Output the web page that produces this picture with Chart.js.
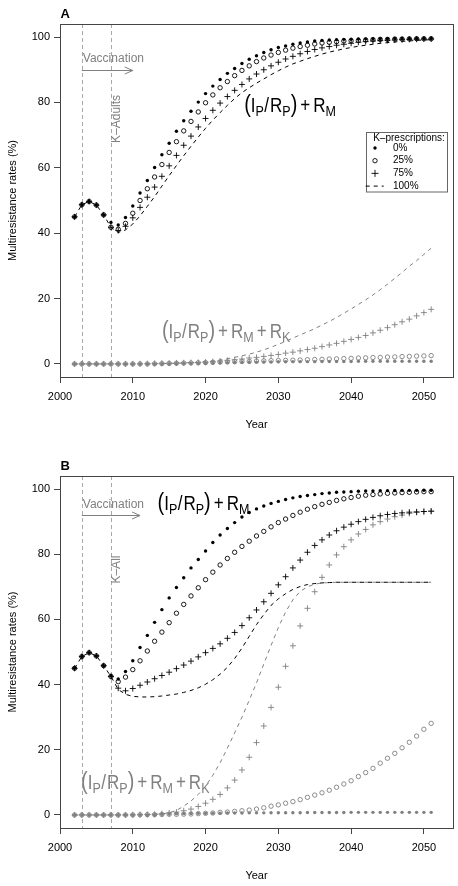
<!DOCTYPE html>
<html>
<head>
<meta charset="utf-8">
<script src="https://cdn.jsdelivr.net/npm/chart.js@4.4.1/dist/chart.umd.min.js"></script>
<style>
  html, body { margin: 0; padding: 0; background: #fff; }
  #wrap { position: relative; width: 458px; height: 886px; }
  canvas { position: absolute; left: 0; }
</style>
</head>
<body>
<div id="wrap">
  <canvas id="panelA" width="458" height="443" style="top:0"></canvas>
  <canvas id="panelB" width="458" height="443" style="top:443px"></canvas>
</div>
<script>
const years = [2002, 2003, 2004, 2005, 2006, 2007, 2008, 2009, 2010, 2011,
    2012, 2013, 2014, 2015, 2016, 2017, 2018, 2019, 2020, 2021,
    2022, 2023, 2024, 2025, 2026, 2027, 2028, 2029, 2030, 2031,
    2032, 2033, 2034, 2035, 2036, 2037, 2038, 2039, 2040, 2041,
    2042, 2043, 2044, 2045, 2046, 2047, 2048, 2049, 2050, 2051];

const xTickValues = [2000, 2010, 2020, 2030, 2040, 2050];
const yTickValues = [0, 20, 40, 60, 80, 100];
const guideYears = [2003, 2007];
const legendTitle = 'K\u2013prescriptions:';
const legendLabels = ['0%', '25%', '75%', '100%'];

// Panel A: K-prescriptions for adults
// (IP/RP) + RM
const adultsTop0 = [45.0, 48.7, 49.7, 48.6, 45.6, 43.3, 42.5, 44.8, 48.3, 52.3,
    56.1, 60.1, 64.0, 67.5, 71.2, 74.4, 77.3, 80.1, 82.7, 85.0,
    87.0, 88.9, 90.4, 91.9, 93.2, 94.3, 95.3, 96.1, 96.8, 97.3,
    97.8, 98.2, 98.5, 98.8, 99.0, 99.1, 99.2, 99.3, 99.35, 99.4,
    99.45, 99.5, 99.5, 99.5, 99.55, 99.55, 99.6, 99.6, 99.6, 99.6];
const adultsTop25 = [45.0, 48.7, 49.7, 48.6, 45.6, 41.8, 41.2, 43.0, 46.1, 50.0,
    53.6, 57.2, 61.0, 64.7, 68.0, 71.3, 74.2, 77.1, 79.9, 82.3,
    84.5, 86.4, 88.2, 89.8, 91.2, 92.5, 93.6, 94.5, 95.3, 96.0,
    96.6, 97.1, 97.5, 97.9, 98.2, 98.4, 98.6, 98.8, 98.9, 99.0,
    99.1, 99.2, 99.3, 99.3, 99.4, 99.4, 99.45, 99.5, 99.5, 99.5];
const adultsTop75 = [45.0, 48.7, 49.7, 48.6, 45.6, 41.8, 40.8, 42.1, 44.7, 47.9,
    51.0, 54.1, 57.4, 60.6, 63.8, 66.9, 69.7, 72.5, 75.1, 77.6,
    79.8, 81.8, 83.7, 85.5, 87.2, 88.7, 90.0, 91.2, 92.3, 93.3,
    94.1, 94.9, 95.6, 96.2, 96.7, 97.1, 97.5, 97.8, 98.1, 98.4,
    98.6, 98.8, 98.9, 99.0, 99.1, 99.2, 99.3, 99.35, 99.4, 99.4];
const adultsTop100 = [45.0, 48.7, 49.7, 48.6, 45.6, 41.8, 40.2, 41.0, 42.8, 45.3,
    48.2, 51.2, 54.4, 57.6, 60.7, 63.7, 66.6, 69.4, 72.1, 74.6,
    76.9, 79.1, 81.2, 83.0, 84.5, 85.9, 87.2, 88.5, 89.7, 90.8,
    91.8, 92.6, 93.4, 94.1, 94.8, 95.4, 95.9, 96.4, 96.8, 97.2,
    97.5, 97.8, 98.1, 98.3, 98.5, 98.7, 98.8, 99.0, 99.1, 99.2];
// (IP/RP) + RM + RK
const adultsK0 = [0, 0, 0, 0, 0, 0, 0, 0, 0, 0,
    0, 0, 0, 0, 0.05, 0.1, 0.15, 0.2, 0.25, 0.3,
    0.35, 0.4, 0.45, 0.5, 0.5, 0.55, 0.6, 0.6, 0.65, 0.65,
    0.7, 0.7, 0.7, 0.7, 0.75, 0.75, 0.75, 0.75, 0.75, 0.8,
    0.8, 0.8, 0.8, 0.8, 0.8, 0.8, 0.8, 0.8, 0.8, 0.8];
const adultsK25 = [0, 0, 0, 0, 0, 0, 0, 0, 0, 0,
    0, 0.05, 0.1, 0.15, 0.2, 0.25, 0.3, 0.35, 0.4, 0.5,
    0.55, 0.6, 0.7, 0.75, 0.8, 0.9, 0.95, 1.0, 1.05, 1.1,
    1.15, 1.2, 1.3, 1.35, 1.4, 1.5, 1.55, 1.65, 1.7, 1.8,
    1.85, 1.95, 2.0, 2.1, 2.15, 2.25, 2.3, 2.4, 2.45, 2.55];
const adultsK75 = [0, 0, 0, 0, 0, 0, 0, 0, 0, 0.05,
    0.1, 0.15, 0.2, 0.25, 0.3, 0.35, 0.4, 0.45, 0.55, 0.7,
    0.9, 1.1, 1.3, 1.5, 1.8, 2.0, 2.3, 2.6, 2.9, 3.3,
    3.6, 4.0, 4.4, 4.8, 5.3, 5.8, 6.3, 6.9, 7.5, 8.1,
    8.7, 9.5, 10.3, 11.1, 12.0, 12.9, 13.7, 14.7, 15.7, 16.7];
const adultsK100 = [0, 0, 0, 0, 0, 0, 0, 0, 0, 0,
    0, 0.05, 0.1, 0.15, 0.2, 0.3, 0.4, 0.5, 0.7, 0.9,
    1.2, 1.6, 2.0, 2.5, 3.0, 3.6, 4.3, 5.1, 6.0, 6.9,
    7.9, 8.9, 9.8, 10.8, 11.9, 13.0, 14.2, 15.5, 16.8, 18.2,
    19.6, 21.1, 22.7, 24.4, 26.2, 28.0, 29.9, 31.6, 33.5, 35.4];

// Panel B: K-prescriptions for all
const allTop0 = [45.0, 48.6, 49.8, 48.8, 45.8, 42.7, 41.7, 44.0, 47.3, 51.4,
    55.1, 59.1, 63.0, 66.6, 69.8, 72.8, 75.8, 78.4, 81.0, 83.6,
    85.9, 87.9, 89.7, 91.4, 92.8, 93.9, 94.8, 95.6, 96.2, 96.8,
    97.3, 97.7, 98.0, 98.3, 98.6, 98.8, 99.0, 99.1, 99.2, 99.3,
    99.4, 99.45, 99.5, 99.5, 99.55, 99.6, 99.6, 99.6, 99.65, 99.65];
const allTop25 = [45.0, 48.6, 49.8, 48.8, 45.8, 42.5, 40.9, 42.3, 44.6, 47.3,
    50.3, 53.3, 56.1, 59.0, 61.9, 64.6, 67.2, 69.7, 72.2, 74.5,
    76.7, 78.7, 80.6, 82.4, 84.0, 85.6, 87.0, 88.4, 89.7, 90.8,
    91.9, 92.9, 93.8, 94.6, 95.3, 95.9, 96.5, 97.0, 97.4, 97.8,
    98.1, 98.3, 98.5, 98.7, 98.8, 98.9, 99.0, 99.1, 99.2, 99.2];
const allTop75 = [45.0, 48.6, 49.8, 48.8, 45.8, 42.5, 38.9, 38.1, 38.8, 39.8,
    40.8, 41.8, 42.8, 43.8, 44.9, 46.0, 47.2, 48.5, 49.8, 51.1,
    52.5, 54.2, 56.0, 58.1, 60.5, 62.9, 65.4, 68.0, 70.6, 73.1,
    75.8, 78.2, 80.6, 82.7, 84.4, 85.9, 87.2, 88.3, 89.2, 90.0,
    90.7, 91.3, 91.8, 92.2, 92.5, 92.7, 92.9, 93.0, 93.1, 93.2];
const allTop100 = [45.0, 48.6, 49.8, 48.8, 45.8, 42.5, 38.5, 37.0, 36.4, 36.2,
    36.2, 36.3, 36.5, 36.8, 37.1, 37.6, 38.2, 39.0, 40.1, 41.5,
    43.2, 45.3, 48.0, 51.2, 54.8, 58.4, 61.5, 64.3, 66.3, 67.9,
    69.2, 70.1, 70.7, 71.0, 71.2, 71.3, 71.4, 71.4, 71.4, 71.4,
    71.4, 71.4, 71.4, 71.4, 71.4, 71.4, 71.4, 71.4, 71.4, 71.4];
const allK0 = [0, 0, 0, 0, 0, 0, 0, 0, 0, 0,
    0, 0.1, 0.2, 0.3, 0.35, 0.4, 0.45, 0.5, 0.5, 0.55,
    0.55, 0.6, 0.6, 0.6, 0.65, 0.65, 0.65, 0.7, 0.7, 0.7,
    0.7, 0.7, 0.75, 0.75, 0.75, 0.75, 0.75, 0.75, 0.8, 0.8,
    0.8, 0.8, 0.8, 0.8, 0.8, 0.8, 0.8, 0.8, 0.8, 0.8];
const allK25 = [0, 0, 0, 0, 0, 0, 0, 0, 0, 0.05,
    0.1, 0.1, 0.15, 0.2, 0.2, 0.25, 0.3, 0.4, 0.5, 0.6,
    0.8, 0.9, 1.1, 1.3, 1.5, 1.8, 2.2, 2.7, 3.1, 3.6,
    4.1, 4.7, 5.4, 6.1, 6.8, 7.6, 8.5, 9.5, 10.5, 11.8,
    13.0, 14.3, 15.9, 17.4, 18.9, 20.6, 22.3, 24.2, 26.3, 28.1];
const allK75 = [0, 0, 0, 0, 0, 0, 0, 0, 0.05, 0.1,
    0.15, 0.2, 0.4, 0.6, 0.9, 1.3, 1.8, 2.6, 3.6, 4.8,
    6.3, 8.3, 10.7, 13.8, 17.7, 22.2, 27.3, 33.0, 39.2, 45.6,
    51.9, 58.0, 63.4, 68.5, 72.9, 76.7, 79.8, 82.3, 84.4, 86.2,
    87.6, 89.0, 90.0, 90.8, 91.5, 92.0, 92.5, 92.8, 93.1, 93.2];
const allK100 = [0, 0, 0, 0, 0, 0, 0, 0, 0, 0,
    0.1, 0.2, 0.3, 0.7, 1.4, 2.7, 4.3, 6.3, 8.8, 12.2,
    16.0, 20.5, 25.2, 30.0, 35.2, 40.5, 46.3, 52.0, 57.5, 62.3,
    66.0, 68.6, 70.0, 70.8, 71.2, 71.3, 71.4, 71.4, 71.4, 71.4,
    71.4, 71.4, 71.4, 71.4, 71.4, 71.4, 71.4, 71.4, 71.4, 71.4];


const FONT = "'Liberation Sans', Arial, Helvetica, sans-serif";
const BLACK = '#000000';
const GRAY = '#808080';
const GUIDE = '#a8a8a8';


function toPoints(values) {
    return years.map((yr, i) => ({ x: yr, y: values[i] }));
}


function markerDataset(values, kind, color) {
    const base = {
        data: toPoints(values),
        showLine: false,
        borderColor: color,
        pointBorderColor: color,
        pointHoverRadius: 0
    };
    if (kind === 'dot') {
        return { ...base, pointStyle: 'circle', pointRadius: 1.7, pointBackgroundColor: color, pointBorderWidth: 0 };
    }
    if (kind === 'circle') {
        return { ...base, pointStyle: 'circle', pointRadius: 2.2, pointBackgroundColor: 'rgba(0,0,0,0)', pointBorderWidth: 0.9 };
    }
    return { ...base, pointStyle: 'cross', pointRadius: 3, pointBorderWidth: 0.9 };
}


function dashedDataset(values, color) {
    return {
        data: toPoints(values),
        showLine: true,
        pointRadius: 0,
        pointHoverRadius: 0,
        borderColor: color,
        borderWidth: 1,
        borderDash: [4, 4],
        tension: 0,
        fill: false
    };
}


// draws things like (I_P/R_P) + R_M, slightly stretched upward like the original
function drawMath(ctx, x, yBase, parts, color) {
    ctx.save();
    ctx.fillStyle = color;
    ctx.textAlign = 'left';
    ctx.textBaseline = 'alphabetic';
    ctx.translate(x, yBase);
    ctx.scale(1, 1.16);
    let cx = 0;
    for (const p of parts) {
        ctx.font = `${p.size}px ${FONT}`;
        ctx.fillText(p.t, cx, p.sub ? 3.6 : 0);
        cx += ctx.measureText(p.t).width + (p.gap || 0);
    }
    ctx.restore();
}

function mathParts(withK) {
    const parts = [
        { t: '(', size: 20 },
        { t: 'I', size: 17 },
        { t: 'P', size: 12.5, sub: true, gap: 0.5 },
        { t: '/', size: 17, gap: 1 },
        { t: 'R', size: 17 },
        { t: 'P', size: 12.5, sub: true },
        { t: ')', size: 20, gap: 3 },
        { t: '+', size: 17, gap: 3 },
        { t: 'R', size: 17 },
        { t: 'M', size: 12.5, sub: true, gap: 3 }
    ];
    if (withK) {
        parts.push({ t: '+', size: 17, gap: 3 });
        parts.push({ t: 'R', size: 17 });
        parts.push({ t: 'K', size: 12.5, sub: true });
    }
    return parts;
}


const framePlugin = {
    id: 'frame',
    afterDraw(chart) {
        const { ctx, chartArea } = chart;
        ctx.save();
        ctx.strokeStyle = '#454545';
        ctx.lineWidth = 1;
        ctx.strokeRect(chartArea.left + 0.5, chartArea.top + 0.5,
            chartArea.right - chartArea.left, chartArea.bottom - chartArea.top);
        ctx.restore();
    }
};


const notesPlugin = {
    id: 'notes',
    beforeDatasetsDraw(chart, args, opts) {
        const { ctx, chartArea, scales } = chart;
        ctx.save();
        ctx.strokeStyle = GUIDE;
        ctx.lineWidth = 1;
        ctx.setLineDash([4, 3]);
        for (const yr of guideYears) {
            const px = Math.round(scales.x.getPixelForValue(yr)) + 0.5;
            ctx.beginPath();
            ctx.moveTo(px, chartArea.top);
            ctx.lineTo(px, chartArea.bottom);
            ctx.stroke();
        }
        ctx.restore();
    },
    afterDatasetsDraw(chart, args, opts) {
        const { ctx, chartArea, scales } = chart;
        const sx = (v) => scales.x.getPixelForValue(v);
        const sy = (v) => scales.y.getPixelForValue(v);

        // panel letter
        ctx.save();
        ctx.fillStyle = BLACK;
        ctx.font = `bold 13px ${FONT}`;
        ctx.textBaseline = 'alphabetic';
        ctx.fillText(opts.letter, chartArea.left + 0.5, chartArea.top - 6.5);

        // vaccination text and arrow
        ctx.fillStyle = GRAY;
        ctx.font = `12px ${FONT}`;
        ctx.fillText('Vaccination', sx(guideYears[0]) + 1, sy(opts.vaccY));
        const ay = Math.round(sy(opts.arrowY)) + 0.5;
        const ax0 = sx(guideYears[0]);
        const ax1 = sx(opts.arrowEnd);
        ctx.strokeStyle = GRAY;
        ctx.lineWidth = 1;
        ctx.beginPath();
        ctx.moveTo(ax0, ay);
        ctx.lineTo(ax1, ay);
        ctx.moveTo(ax1 - 8, ay - 3.5);
        ctx.lineTo(ax1, ay);
        ctx.lineTo(ax1 - 8, ay + 3.5);
        ctx.stroke();

        // rotated K label
        ctx.save();
        ctx.translate(sx(opts.kX), sy(opts.kY));
        ctx.rotate(-Math.PI / 2);
        ctx.fillText(opts.kLabel, 0, 0);
        ctx.restore();

        ctx.restore();

        drawMath(ctx, sx(opts.topLabel[0]), sy(opts.topLabel[1]), mathParts(false), BLACK);
        drawMath(ctx, sx(opts.bottomLabel[0]), sy(opts.bottomLabel[1]), mathParts(true), GRAY);

        if (opts.legend) {
            const w = 81;
            const h = 59.5;
            const right = chartArea.right - 6.3;
            const top = chartArea.top + 108.3;
            const left = right - w;
            ctx.save();
            ctx.strokeStyle = '#666';
            ctx.lineWidth = 1;
            ctx.strokeRect(Math.round(left) + 0.5, Math.round(top) + 0.5, w, h);
            ctx.fillStyle = BLACK;
            ctx.font = `10px ${FONT}`;
            ctx.textBaseline = 'middle';
            ctx.fillText(legendTitle, left + 7.5, top + 5.5);
            const symX = left + 9.3;
            legendLabels.forEach((label, i) => {
                const cy = top + 15.7 + i * 12.7;
                ctx.fillStyle = BLACK;
                ctx.fillText(label, left + 27.3, cy);
                ctx.strokeStyle = BLACK;
                ctx.lineWidth = 0.9;
                ctx.beginPath();
                if (i === 0) {
                    ctx.arc(symX, cy, 1.7, 0, Math.PI * 2);
                    ctx.fill();
                } else if (i === 1) {
                    ctx.arc(symX, cy, 2.2, 0, Math.PI * 2);
                    ctx.stroke();
                } else if (i === 2) {
                    ctx.moveTo(symX - 3.5, cy);
                    ctx.lineTo(symX + 3.5, cy);
                    ctx.moveTo(symX, cy - 3.5);
                    ctx.lineTo(symX, cy + 3.5);
                    ctx.stroke();
                } else {
                    ctx.lineWidth = 1;
                    ctx.setLineDash([4, 4]);
                    ctx.moveTo(left, cy);
                    ctx.lineTo(left + 18, cy);
                    ctx.stroke();
                    ctx.setLineDash([]);
                }
            });
            ctx.restore();
        }
    }
};


function makePanel(canvasId, topSeries, kSeries, notes, layoutOpts) {
    const datasets = [
        markerDataset(topSeries[0], 'dot', BLACK),
        markerDataset(topSeries[1], 'circle', BLACK),
        markerDataset(topSeries[2], 'plus', BLACK),
        dashedDataset(topSeries[3], BLACK),
        markerDataset(kSeries[0], 'dot', GRAY),
        markerDataset(kSeries[1], 'circle', GRAY),
        markerDataset(kSeries[2], 'plus', GRAY),
        dashedDataset(kSeries[3], GRAY)
    ];

    const tickFont = { family: FONT, size: 11 };

    return new Chart(document.getElementById(canvasId), {
        type: 'scatter',
        data: { datasets },
        plugins: [framePlugin, notesPlugin],
        options: {
            responsive: false,
            animation: false,
            layout: { padding: { top: layoutOpts.padTop, right: 5, left: 0, bottom: 0 } },
            plugins: {
                legend: { display: false },
                tooltip: { enabled: false },
                notes
            },
            scales: {
                x: {
                    type: 'linear',
                    min: 2000,
                    max: 2054,
                    afterBuildTicks: (s) => { s.ticks = xTickValues.map((v) => ({ value: v })); },
                    afterFit: (s) => { s.height = layoutOpts.xAxisHeight; },
                    ticks: {
                        font: tickFont,
                        color: '#000',
                        padding: 7,
                        maxRotation: 0,
                        autoSkip: false,
                        callback: (v) => String(v)
                    },
                    grid: { drawOnChartArea: false, drawTicks: true, tickLength: 6, color: '#454545' },
                    border: { display: false },
                    title: {
                        display: true,
                        text: 'Year',
                        font: { family: FONT, size: 11 },
                        color: '#000',
                        padding: { top: 0, bottom: layoutOpts.yearPad }
                    }
                },
                y: {
                    min: -4,
                    max: 104,
                    afterBuildTicks: (s) => { s.ticks = yTickValues.map((v) => ({ value: v })); },
                    afterFit: (s) => { s.width = 60; },
                    ticks: { font: tickFont, color: '#000', padding: 4 },
                    grid: { drawOnChartArea: false, drawTicks: true, tickLength: 6, color: '#454545' },
                    border: { display: false },
                    title: {
                        display: true,
                        text: 'Multiresistance rates (%)',
                        font: { family: FONT, size: 11 },
                        color: '#000',
                        padding: { top: 6, bottom: 0 }
                    }
                }
            }
        }
    });
}


makePanel('panelA',
    [adultsTop0, adultsTop25, adultsTop75, adultsTop100],
    [adultsK0, adultsK25, adultsK75, adultsK100],
    {
        letter: 'A', kLabel: 'K\u2013Adults', kX: 2008.3, kY: 67.6,
        vaccY: 92.3, arrowY: 90.0, arrowEnd: 2010,
        topLabel: [2025.3, 77.0], bottomLabel: [2014.0, 8.0], legend: true
    },
    { padTop: 24, xAxisHeight: 66, yearPad: 11.4 }
);

makePanel('panelB',
    [allTop0, allTop25, allTop75, allTop100],
    [allK0, allK25, allK75, allK100],
    {
        letter: 'B', kLabel: 'K\u2013All', kX: 2008.3, kY: 71.0,
        vaccY: 94.1, arrowY: 92.0, arrowEnd: 2011,
        topLabel: [2013.4, 93.6], bottomLabel: [2002.9, 8.0], legend: false
    },
    { padTop: 33, xAxisHeight: 58, yearPad: 3.4 }
);
</script>
</body>
</html>
